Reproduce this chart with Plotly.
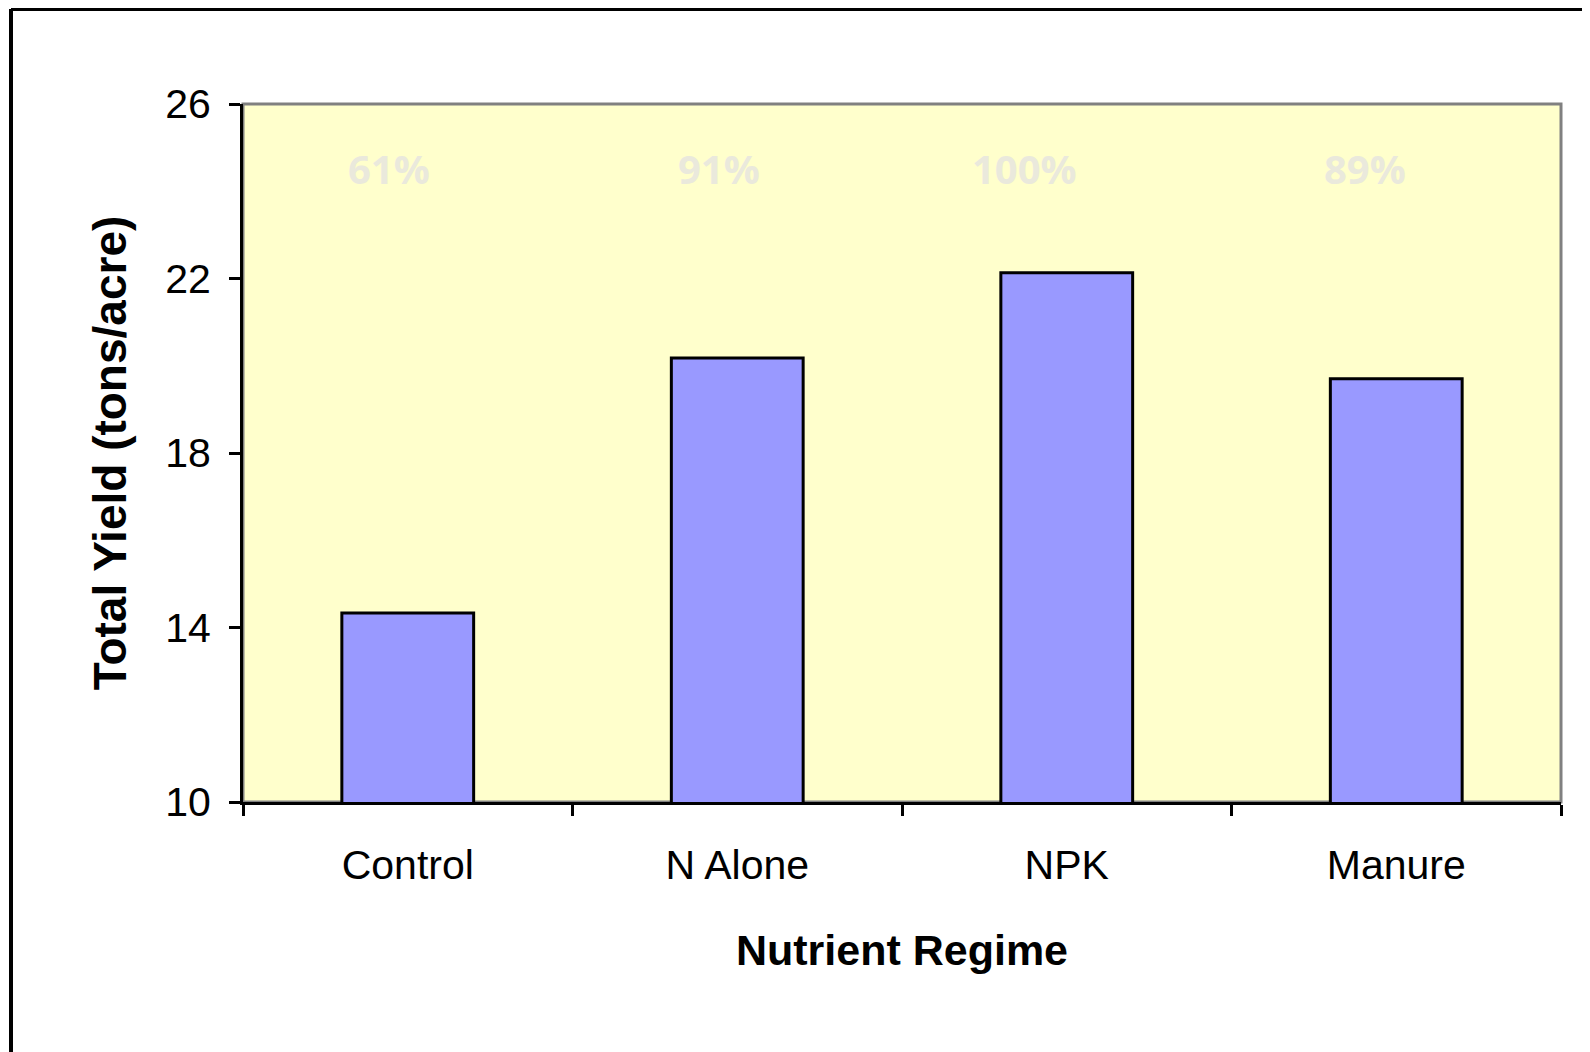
import plotly.graph_objects as go

categories = ["Control", "N Alone", "NPK", "Manure"]
yield_tons = [14.33, 20.18, 22.13, 19.70]
pct_labels = ["61%", "91%", "100%", "89%"]
y_ticks = [10, 14, 18, 22, 26]

OFF = 8  # browser body margin
W, H = 1590 - OFF, 1052 - OFF
L, R, T, B = 243 - OFF, 29, 104 - OFF, 250
pw, ph = W - L - R, H - T - B

def px_x(p):
    return (p - OFF - L) / pw

def px_y(p):
    return (H - B - (p - OFF)) / ph

fig = go.Figure()
fig.add_trace(go.Bar(
    x=categories, y=yield_tons, width=0.4,
    marker=dict(color="#9999FF", line=dict(color="black", width=3)),
    hoverinfo="x+y",
))

label_shift = [-19, -18, -42, -31]
for c, t, s in zip(categories, pct_labels, label_shift):
    fig.add_annotation(x=c, y=24.53, xref="x", yref="y", text="<b>%s</b>" % t,
                       showarrow=False, xshift=s,
                       font=dict(family="Open Sans, Lato, sans-serif", size=40, color="#EAE9DC"))

# plot border (top and right grey)
fig.add_shape(type="rect", xref="paper", yref="paper", x0=0, x1=1, y0=0, y1=1,
              line=dict(color="#808080", width=3), layer="below")
# outer frame (black, extends off the page)
fig.add_shape(type="line", xref="paper", yref="paper",
              x0=px_x(11), x1=px_x(11), y0=px_y(9), y1=px_y(1100),
              line=dict(color="black", width=4))
fig.add_shape(type="line", xref="paper", yref="paper",
              x0=px_x(11), x1=px_x(1650), y0=px_y(9), y1=px_y(9),
              line=dict(color="black", width=4))
fig.add_shape(type="line", xref="paper", yref="paper",
              x0=px_x(7), x1=px_x(7), y0=px_y(935), y1=px_y(1100),
              line=dict(color="#F2CFA0", width=2))

fig.update_layout(
    width=W, height=H,
    margin=dict(l=L, r=R, t=T, b=B, pad=0),
    paper_bgcolor="white", plot_bgcolor="#FFFFCC",
    showlegend=False, bargap=0.6,
    font=dict(family="Arial, Liberation Sans, sans-serif", color="black"),
)
fig.update_xaxes(
    showline=True, linecolor="black", linewidth=3,
    ticks="outside", tickson="boundaries", ticklen=11, tickwidth=3, tickcolor="black",
    tickfont=dict(size=41), ticklabelstandoff=25,
    showgrid=False, zeroline=False,
    title=dict(text="<b>Nutrient Regime</b>", font=dict(size=43), standoff=48),
)
fig.update_yaxes(
    range=[10, 26], tickvals=y_ticks, ticktext=[str(v) for v in y_ticks],
    showline=True, linecolor="black", linewidth=3,
    ticks="outside", ticklen=11, tickwidth=3, tickcolor="black",
    tickfont=dict(size=41), ticklabelstandoff=10,
    showgrid=False, zeroline=False,
    title=dict(text="<b>Total Yield (tons/acre)</b>", font=dict(size=46), standoff=25),
)

fig.write_html("out.html")
